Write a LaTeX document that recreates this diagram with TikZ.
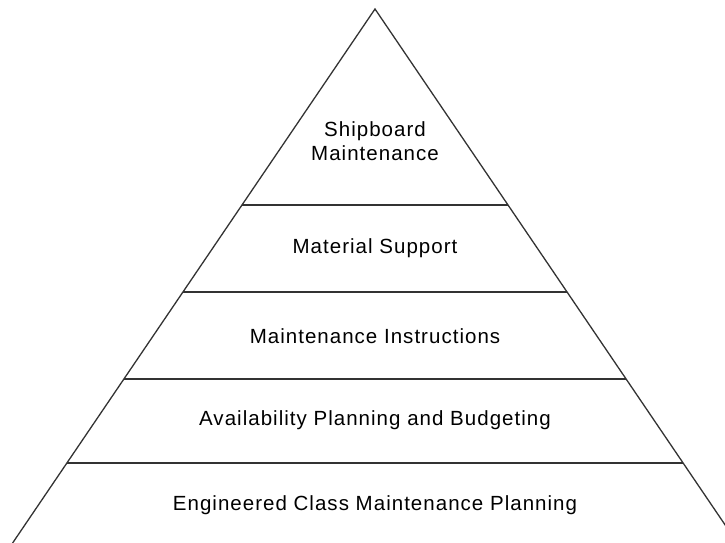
\documentclass[tikz,border=0pt]{standalone}
\usepackage{fontspec}
\setmainfont{Liberation Sans}
\usepackage{tikz}

\begin{document}
\begin{tikzpicture}[x=1pt,y=-1pt,
    every node/.style={font=\addfontfeatures{LetterSpace=5}\fontsize{20.5}{24}\selectfont,align=center,inner sep=0},
    level/.style={line width=1.3pt,draw=black!80}]
        \useasboundingbox (0,0) rectangle (725,542);
        \clip (0,0) rectangle (725,542);
        \coordinate (apex) at (375,9);
        \coordinate (bl) at (6.5,552);
        \coordinate (br) at (743.5,552);
        \coordinate (l1) at (241.9,205); \coordinate (r1) at (508.1,205);
        \coordinate (l2) at (182.8,292); \coordinate (r2) at (567.2,292);
        \coordinate (l3) at (123.8,379); \coordinate (r3) at (626.2,379);
        \coordinate (l4) at (66.7,463); \coordinate (r4) at (683.3,463);
        \draw[level] (bl) -- (apex) -- (br);
        \draw[level] (l1) -- (r1) (l2) -- (r2) (l3) -- (r3) (l4) -- (r4);
        \node (ship) at (375,141) {Shipboard\\Maintenance};
        \node (mat) at (375,248) {Material Support};
        \node (instr) at (375,336) {Maintenance Instructions};
        \node (avail) at (375,420) {Availability Planning and Budgeting};
        \node (ecmp) at (375,505) {Engineered Class Maintenance Planning};
      \end{tikzpicture}
\end{document}
